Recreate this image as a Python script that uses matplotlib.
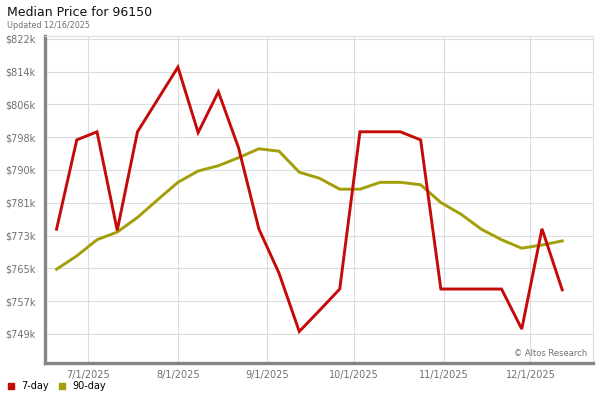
import numpy as np
import pandas as pd
import matplotlib
matplotlib.use("Agg")
import matplotlib.pyplot as plt

# weekly data points
start_date = "2025-06-20"
n_weeks = 26
price_7day = [774.9, 797.0, 799.0, 774.6, 799.0, 807.0, 815.0, 798.8, 808.9, 795.0,
              775.0, 764.0, 749.6, 754.8, 760.1, 799.0, 799.0, 799.0, 797.0, 760.1,
              760.1, 760.1, 760.1, 750.2, 775.0, 759.9]
price_90day = [765.0, 768.3, 772.3, 774.2, 777.8, 782.2, 786.5, 789.3, 790.6, 792.6,
               794.8, 794.2, 789.0, 787.5, 784.8, 784.8, 786.5, 786.5, 785.9, 781.5,
               778.6, 774.9, 772.3, 770.2, 771.0, 772.0]
y_ticks = np.linspace(749, 822, 10)
y_labels = ["$749k", "$757k", "$765k", "$773k", "$781k",
            "$790k", "$798k", "$806k", "$814k", "$822k"]
x_ticks = ["2025-07-01", "2025-08-01", "2025-09-01", "2025-10-01", "2025-11-01", "2025-12-01"]
x_labels = ["7/1/2025", "8/1/2025", "9/1/2025", "10/1/2025", "11/1/2025", "12/1/2025"]

dates = pd.date_range(start_date, periods=n_weeks, freq="7D")

red = "#c50a0a"
olive = "#a39f0a"
grid_c = "#dcdcdc"
text_c = "#707070"

fig = plt.figure(figsize=(6, 4), dpi=100)
ax = fig.add_axes([0.075, 0.0925, 0.913, 0.8185])

ax.plot(dates, price_90day, color=olive, lw=2.1, solid_joinstyle="miter", zorder=3)
ax.plot(dates, price_7day, color=red, lw=2.1, solid_joinstyle="miter", zorder=4)

ax.set_ylim(741.8, 822.8)
ax.set_xlim(pd.Timestamp("2025-06-16"), pd.Timestamp("2025-12-22 14:00"))

ax.set_yticks(y_ticks)
ax.set_yticklabels(y_labels)
ax.set_xticks([pd.Timestamp(d) for d in x_ticks])
ax.set_xticklabels(x_labels)
ax.tick_params(axis="both", length=0, labelsize=7, labelcolor=text_c)
ax.tick_params(axis="y", pad=7)
ax.tick_params(axis="x", pad=5)

ax.grid(True, color=grid_c, lw=0.8, zorder=0)
ax.set_axisbelow(True)

for side in ["top", "right"]:
    ax.spines[side].set_color(grid_c)
    ax.spines[side].set_linewidth(0.8)
ax.spines["left"].set_color("#858585")
ax.spines["left"].set_linewidth(2.4)
ax.spines["bottom"].set_color("#858585")
ax.spines["bottom"].set_linewidth(2.4)

ax.text(0.99, 0.015, "\u00a9 Altos Research", transform=ax.transAxes,
        ha="right", va="bottom", fontsize=6, color=text_c)

fig.text(7 / 600, 1 - 12 / 400, "Median Price for 96150", fontsize=9,
         ha="left", va="center", color="#111111")
fig.text(7 / 600, 1 - 25 / 400, "Updated 12/16/2025", fontsize=5.8,
         ha="left", va="center", color=text_c)

# legend at bottom
fig.patches.append(plt.Rectangle((8 / 600, 1 - 389 / 400), 6 / 600, 6 / 400,
                                 transform=fig.transFigure, color=red))
fig.text(21 / 600, 1 - 386 / 400, "7-day", fontsize=7, ha="left", va="center")
fig.patches.append(plt.Rectangle((59 / 600, 1 - 389 / 400), 6 / 600, 6 / 400,
                                 transform=fig.transFigure, color=olive))
fig.text(72 / 600, 1 - 386 / 400, "90-day", fontsize=7, ha="left", va="center")

fig.savefig("out.png", dpi=100)
